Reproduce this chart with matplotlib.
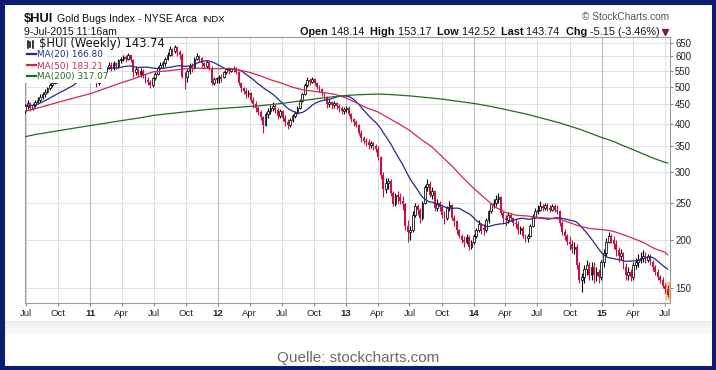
import matplotlib

matplotlib.use("Agg")
import matplotlib.dates as mdates  # noqa: E402
import matplotlib.pyplot as plt  # noqa: E402
import numpy as np  # noqa: E402
import pandas as pd  # noqa: E402
from matplotlib.lines import Line2D  # noqa: E402
from matplotlib.patches import Rectangle  # noqa: E402
from matplotlib.ticker import FixedLocator, NullLocator  # noqa: E402

plt.rcParams["font.family"] = ["Liberation Sans", "DejaVu Sans"]

# --- weekly $HUI bars (Jul-2010 .. 10-Jul-2015) ---
FIRST_OPEN = 432.0
closes = [
    445, 452, 440, 448, 455, 462, 470, 478, 485, 495, 505, 512, 520, 528, 540, 535, 548, 555,
    585, 558, 555, 570, 580, 585, 578, 590, 573,
    532, 528, 512, 520, 540, 548, 562, 570, 560, 575, 565, 585, 588, 598, 590, 602, 585,
    545, 555, 540, 548, 535, 520, 515, 505, 525, 540, 560, 570, 575, 590, 605, 625, 618,
    632, 615, 605, 530, 528, 548, 565, 558, 590, 600, 592, 575, 565, 578, 560, 512, 522, 525,
    530, 528, 545, 555, 550, 555, 552, 545, 510, 495, 488, 478, 480, 462, 450, 440, 430,
    418, 398, 425, 432, 440, 445, 435, 420, 432, 415, 405, 398, 410, 420, 428, 440, 460, 478,
    505, 520, 515, 522, 510, 500, 492, 480, 470, 450, 455, 448, 452, 445, 440, 432, 438,
    440, 425, 412, 405, 398, 380, 368, 362, 360, 352, 356, 350, 345, 328, 295, 272, 282,
    284, 265, 248, 262, 258, 252, 248, 218, 210, 212, 232, 245, 240, 228, 250, 275, 280, 262,
    268, 242, 250, 244, 232, 228, 242, 246, 228, 224, 212, 205, 200, 198, 204, 192, 198,
    205, 212, 220, 215, 212, 225, 238, 248, 250, 255, 258, 235, 228, 225, 232, 228, 222,
    220, 212, 215, 205, 202, 205, 218, 230, 238, 240, 245, 242, 246, 242, 240, 245, 240, 238,
    222, 210, 205, 198, 195, 190, 192, 172, 158, 160, 168, 172, 162, 170, 162, 165, 160,
    175, 185, 198, 205, 200, 195, 188, 182, 185, 170, 162, 165, 160, 172, 175, 178, 180,
    182, 178, 182, 176, 170, 165, 160, 158, 152, 149, 143.74,
]
highs = [
    450, 462, 455, 453, 462, 470, 478, 485, 492, 500, 510, 518, 525, 535, 548, 545, 555, 565,
    595, 590, 565, 578, 588, 595, 590, 598, 592,
    575, 545, 535, 528, 545, 555, 568, 578, 578, 582, 580, 590, 595, 605, 602, 612, 605,
    590, 565, 560, 558, 555, 540, 528, 520, 530, 545, 565, 578, 582, 598, 615, 638, 630,
    641, 635, 620, 610, 545, 555, 575, 575, 595, 610, 605, 598, 580, 585, 580, 565, 528, 530,
    535, 540, 550, 560, 562, 560, 565, 562, 548, 515, 500, 495, 490, 485, 470, 458, 445,
    435, 420, 430, 440, 448, 455, 450, 440, 438, 435, 422, 412, 415, 425, 432, 445, 465, 482,
    510, 530, 525, 528, 525, 515, 505, 495, 485, 472, 465, 458, 458, 455, 450, 445, 443,
    445, 445, 428, 415, 410, 400, 385, 372, 368, 365, 362, 360, 355, 350, 330, 300, 290,
    290, 288, 268, 265, 268, 265, 260, 250, 225, 218, 238, 250, 248, 242, 252, 278, 288, 285,
    275, 270, 256, 252, 248, 238, 245, 252, 248, 232, 226, 214, 208, 205, 208, 206, 200,
    208, 215, 225, 222, 220, 228, 240, 250, 255, 262, 265, 260, 238, 232, 236, 235, 230,
    228, 224, 218, 218, 208, 208, 220, 234, 242, 246, 252, 248, 250, 250, 246, 248, 248, 246,
    240, 224, 214, 208, 205, 200, 198, 195, 175, 164, 172, 178, 176, 176, 175, 170, 168,
    178, 190, 202, 210, 208, 205, 200, 192, 190, 186, 174, 170, 168, 175, 180, 184, 186,
    188, 186, 184, 184, 178, 172, 168, 162, 160, 155, 153.17,
]
lows = [
    428, 438, 432, 435, 442, 450, 455, 465, 470, 480, 490, 500, 508, 512, 520, 525, 528, 540,
    550, 552, 540, 552, 560, 570, 568, 575, 568,
    525, 515, 500, 505, 515, 532, 540, 555, 548, 552, 555, 560, 575, 582, 580, 585, 578,
    530, 535, 530, 530, 525, 510, 505, 495, 500, 520, 535, 555, 560, 565, 585, 600, 600,
    612, 600, 590, 525, 493, 515, 540, 545, 555, 585, 578, 562, 555, 560, 552, 505, 505, 512,
    512, 515, 525, 540, 540, 545, 545, 540, 505, 485, 478, 468, 470, 455, 440, 430, 422,
    410, 380, 395, 415, 425, 432, 428, 412, 415, 408, 395, 388, 392, 405, 415, 425, 438, 455,
    475, 500, 505, 510, 505, 492, 485, 472, 462, 440, 442, 438, 440, 438, 430, 425, 425,
    430, 420, 405, 395, 392, 375, 360, 355, 350, 345, 346, 342, 338, 322, 288, 258, 265,
    272, 260, 245, 245, 250, 248, 240, 212, 198, 200, 210, 230, 232, 222, 225, 248, 268, 258,
    255, 238, 238, 238, 228, 220, 225, 238, 225, 218, 208, 202, 196, 192, 195, 188, 190,
    195, 202, 210, 208, 206, 210, 222, 235, 242, 245, 250, 232, 222, 218, 222, 224, 218,
    215, 208, 208, 202, 198, 198, 204, 216, 228, 234, 238, 238, 240, 238, 236, 238, 236, 234,
    218, 206, 200, 194, 188, 185, 184, 168, 155, 147, 155, 162, 158, 158, 155, 157, 155,
    158, 170, 182, 196, 196, 190, 182, 176, 178, 168, 158, 158, 157, 158, 168, 170, 174,
    176, 174, 175, 172, 166, 162, 158, 155, 150, 146, 142.52,
]

# moving averages at the start of each month (plus the last bar)
ma50 = [
    432, 439, 447, 455, 463, 471, 479, 490, 500, 512, 522, 535,
    546, 548, 552, 556, 558, 557, 556, 557, 552, 544, 533, 520,
    510, 498, 490, 486, 482, 477, 467, 453, 440, 430, 415, 400,
    385, 366, 350, 330, 310, 290, 272, 257, 244, 236, 232, 231,
    229, 228, 227, 222, 217, 214, 213, 211, 207, 202, 197, 190,
    186, 183.21,
]
ma200 = [
    371, 376, 380, 384, 388, 392, 396, 400, 404, 408, 412, 416,
    421, 424, 427, 430, 433, 436, 438, 440, 442, 444, 446, 449,
    452, 456, 460, 464, 468, 471, 474, 476, 477, 478, 477, 475,
    473, 470, 467, 464, 460, 456, 452, 447, 442, 436, 430, 424,
    417, 410, 403, 395, 387, 378, 369, 361, 352, 343, 334, 325,
    318, 317.07,
]
y_ticks = [150, 200, 250, 300, 350, 400, 450, 500, 550, 600, 650]
month_names = {4: "Apr", 7: "Jul", 10: "Oct"}

legend_rows = [
    ("MA(20) 166.80", "#1f2b8f"),
    ("MA(50) 183.21", "#d3264f"),
    ("MA(200) 317.07", "#216b21"),
]
stats = [("Open ", True), ("148.14  ", False), ("High ", True), ("153.17  ", False),
         ("Low ", True), ("142.52  ", False), ("Last ", True), ("143.74  ", False),
         ("Chg ", True), ("-5.15 (-3.46%)", False)]

RED = "#c8123f"
W, H = 716, 370


def fx(px):
    return px / W


def fy(py):
    return 1 - py / H


def fig_rect(x0, y0, x1, y1, color, z):
    """White-out / shading box given in picture pixels (top-left origin)."""
    fig.add_artist(Rectangle((fx(x0), fy(y1)), (x1 - x0) / W, (y1 - y0) / H,
                             transform=fig.transFigure, facecolor=color, edgecolor="none", zorder=z))


fig = plt.figure(figsize=(W / 100, H / 100), dpi=100)
fig.patch.set_facecolor("white")
ax = fig.add_axes([fx(25), fy(303), (670 - 25) / W, (303 - 37) / H])

weeks = pd.date_range("2010-07-02", periods=len(closes), freq="W-FRI")
x = mdates.date2num(weeks) - 2.0
c = np.asarray(closes, dtype=float)
o = np.r_[FIRST_OPEN, c[:-1]]
hi = np.asarray(highs, dtype=float)
lo = np.asarray(lows, dtype=float)
up = c >= o

# last-bar highlight
ax.add_patch(Rectangle((x[-1] - 4.5, lo[-1] * 0.985), 9, hi[-1] * 1.015 - lo[-1] * 0.985,
                       facecolor="#ffe27a", edgecolor="#ffc46b", lw=0.8, zorder=2))

ax.vlines(x, lo, hi, colors=np.where(up, "black", RED), lw=0.8, zorder=3)
bottom = np.minimum(o, c)
height = np.abs(c - o)
ax.bar(x[up], height[up], bottom=bottom[up], width=5.0, facecolor="white",
       edgecolor="black", lw=0.55, zorder=4)
ax.bar(x[~up], height[~up], bottom=bottom[~up], width=5.0, color=RED, lw=0, zorder=4)

ma20 = pd.Series(c).rolling(20, min_periods=1).mean().to_numpy()
ma_dates = list(pd.date_range("2010-07-01", "2015-07-01", freq="MS")) + [pd.Timestamp("2015-07-08")]
ax.plot(x, ma20, color=legend_rows[0][1], lw=0.9, zorder=5)
ax.plot(mdates.date2num(ma_dates), ma50, color=legend_rows[1][1], lw=0.9, zorder=5)
ax.plot(mdates.date2num(ma_dates), ma200, color=legend_rows[2][1], lw=0.9, zorder=5)

ax.set_yscale("log")
ax.set_ylim(137.4, 672)
ax.set_xlim(mdates.date2num(pd.Timestamp("2010-06-29")), mdates.date2num(pd.Timestamp("2015-07-15")))
ax.yaxis.set_major_locator(FixedLocator(y_ticks))
ax.yaxis.set_minor_locator(NullLocator())
ax.set_yticklabels([str(v) for v in y_ticks])
ax.yaxis.tick_right()
ax.tick_params(axis="y", labelsize=6.9, length=2.5, pad=1.2, color="#888888", labelcolor="#222222")
for v in y_ticks:
    ax.axhline(v, color="#dcdcdc", lw=0.6, zorder=0)

quarters = pd.date_range("2010-07-01", "2015-07-01", freq="QS-JAN")
labels = []
for d in quarters:
    labels.append(f"{d.year % 100:02d}" if d.month == 1 else month_names[d.month])
    ax.axvline(mdates.date2num(d), color="#b4b4b4" if d.month == 1 else "#dcdcdc", lw=0.7, zorder=0)
ax.set_xticks(mdates.date2num(quarters))
ax.set_xticklabels(labels)
ax.xaxis.set_minor_locator(NullLocator())
ax.tick_params(axis="x", labelsize=6.8, length=2.5, pad=2, color="#888888", labelcolor="#222222")
for lab, d in zip(ax.get_xticklabels(), quarters):
    if d.month == 1:
        lab.set_fontweight("bold")
for sp in ax.spines.values():
    sp.set_color("#9a9a9a")
    sp.set_linewidth(0.8)

# legend: each row sits on its own white strip that hides the bars beneath
fig_rect(25.5, 37.5, 166, 49.5, "white", 10)
fig_rect(25.5, 49.5, 107, 83, "white", 10)
for i, dx in enumerate([28, 30.5, 33]):
    fig.add_artist(Line2D([fx(dx), fx(dx)], [fy(48 - i % 2), fy(41 + i % 2)],
                          transform=fig.transFigure, color="black", lw=1.1, zorder=11))
fig.text(fx(39), fy(47.5), "$HUI (Weekly) 143.74", fontsize=8.3, family="DejaVu Sans",
         va="baseline", color="#111111", zorder=11)
for i, (txt, col) in enumerate(legend_rows):
    yb = 57.5 + 11 * i
    fig.add_artist(Line2D([fx(27), fx(35.5)], [fy(yb - 3.2), fy(yb - 3.2)],
                          transform=fig.transFigure, color=col, lw=1.6, zorder=11))
    fig.text(fx(37), fy(yb), txt, fontsize=6.4, family="DejaVu Sans", va="baseline",
             color=col, zorder=11)

# header
renderer = fig.canvas.get_renderer()
fig.text(fx(24), fy(22), "$HUI", fontsize=9.3, fontweight="bold", va="baseline", color="#111111")
t = fig.text(fx(57), fy(22), "Gold Bugs Index - NYSE Arca", fontsize=7.6, va="baseline",
             color="#111111")
fig.text(fx(57 + t.get_window_extent(renderer).width + 5), fy(22), "INDX", fontsize=6.8,
         va="baseline", color="#111111")
fig.text(fx(24), fy(35), "9-Jul-2015 11:16am", fontsize=7.6, va="baseline", color="#111111")
fig.text(fx(669), fy(20.5), "\u00a9 StockCharts.com", fontsize=7.3, va="baseline", ha="right",
         color="#555555")

xpos = 300
for s, bold in stats:
    t = fig.text(fx(xpos), fy(35), s, fontsize=7.85, fontweight="bold" if bold else "normal",
                 va="baseline", color="#111111")
    xpos += t.get_window_extent(renderer).width
fig.add_artist(Line2D([fx(xpos + 5)], [fy(31.5)], transform=fig.transFigure, marker="v",
                      ms=4, color="#8c1a2c", lw=0))

# faint shadow under the chart card and the source line
fig_rect(5, 321, 711, 323, "#ececec", 1)
fig_rect(5, 323, 711, 328, "#f2f2f2", 1)
fig_rect(5, 328, 711, 334, "#f8f8f8", 1)
fig.text(0.5, fy(362), "Quelle: stockcharts.com", fontsize=11, ha="center", va="baseline",
         color="#6b6b6b")

fig.add_artist(Rectangle((0, 0), 1, 1, transform=fig.transFigure, fill=False,
                         edgecolor="#101c74", lw=6.5, zorder=20))

fig.savefig("out.png", dpi=100)
